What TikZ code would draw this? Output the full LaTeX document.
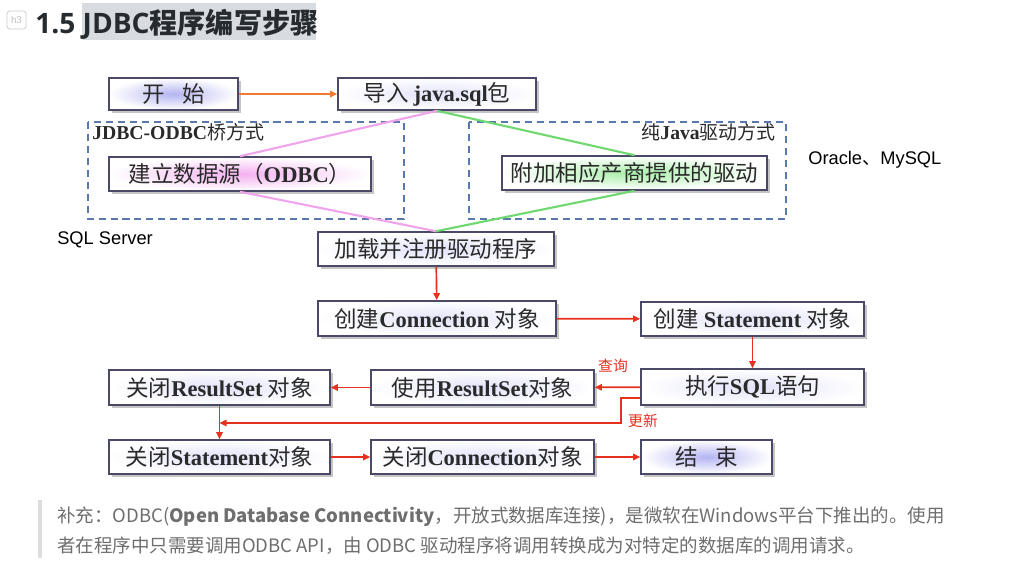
\documentclass[tikz,border=0pt]{standalone}
\usepackage{fontspec}
\setmainfont{Liberation Serif}
\newfontfamily\cjk{Noto Sans CJK SC}
\newfontfamily\titlefont{Open Sans}
\newfontfamily\labelfont{Liberation Sans}
\usetikzlibrary{arrows.meta, shadows}

\definecolor{boxline}{HTML}{4A4A68}
\definecolor{boxtext}{HTML}{2A2A2A}
\definecolor{glowblue}{HTML}{E2E2FA}
\definecolor{glowstrong}{HTML}{B4B4F2}
\definecolor{glowpink}{HTML}{F4B0F0}
\definecolor{glowgreen}{HTML}{A8EEA8}
\definecolor{dashblue}{HTML}{5878AE}
\definecolor{flowred}{HTML}{E8301E}
\definecolor{startorange}{HTML}{F07A30}
\definecolor{odbcpink}{HTML}{F0A4EC}
\definecolor{javagreen}{HTML}{70D870}
\definecolor{notegray}{HTML}{6E6E6E}
\definecolor{notebar}{HTML}{DDDDDD}
\definecolor{titlebg}{HTML}{D8DCE1}
\definecolor{titletext}{HTML}{262B30}

\newcommand{\en}[1]{{\rmfamily\bfseries #1}}

\begin{document}
\begin{tikzpicture}[x=0.025cm, y=-0.025cm,
    stepbox/.style={draw=boxline, line width=1.1pt, inner sep=0pt,
      minimum height=0.85cm, text=boxtext,
      font=\cjk\fontsize{16}{18}\selectfont,
      inner color=#1, outer color=white,
      drop shadow={shadow xshift=2pt, shadow yshift=-2pt, opacity=0.45}},
    stepbox/.default=glowblue,
    flow/.style={draw=flowred, line width=1.2pt, -{Triangle[length=5pt, width=4.5pt]}},
    frame/.style={draw=dashblue, line width=1.4pt, dash pattern=on 5pt off 3.5pt},
    branch/.style={line width=1.5pt},
    framelabel/.style={font=\cjk\fontsize{13.5}{15}\selectfont, text=boxtext, inner sep=0pt},
    side/.style={font=\labelfont\fontsize{13}{15}\selectfont, inner sep=0pt},
    tag/.style={font=\cjk\fontsize{10.5}{12}\selectfont, text=flowred, inner sep=0pt},
    notetext/.style={font=\cjk\fontsize{13.15}{16}\selectfont, text=notegray, inner sep=0pt, anchor=west}]

    \useasboundingbox (0,0) rectangle (1031,568);
    \fill[white] (0,0) rectangle (1031,568);

    % 标题
    \draw[gray!40, line width=0.6pt, rounded corners=2pt] (7,11) rectangle (26,29);
    \node[text=gray!50, font=\labelfont\fontsize{7}{8}\selectfont] (badge) at (16.5,20) {h3};
    \fill[titlebg] (82,3) rectangle (316,40);
    \node[anchor=west, inner sep=0pt, text=titletext] (title) at (35,24)
      {{\titlefont\bfseries\fontsize{20}{22}\selectfont 1.5 JDBC}{\cjk\bfseries\fontsize{20}{22}\selectfont 程序编写步骤}};

    % 两种驱动方式的虚线框
    \draw[frame] (88,122) rectangle (404,219);
    \draw[frame] (469,122) rectangle (786,219);
    \node[framelabel, anchor=west] (bridgelabel) at (92,132) {{\rmfamily\bfseries\fontsize{14}{15}\selectfont JDBC-ODBC}桥方式};
    \node[framelabel, anchor=east] (purelabel) at (776,132) {纯{\rmfamily\bfseries\fontsize{14}{15}\selectfont Java}驱动方式};

    % 步骤
    \node[stepbox=glowstrong, minimum width=3.225cm, minimum height=0.8cm] (start) at (173.5,94) {开\hspace{0.8em}始};
    \node[stepbox, minimum width=4.95cm, minimum height=0.8cm] (import) at (437,94) {导入 \en{java.sql}包};
    \node[stepbox=glowpink, minimum width=6.55cm] (odbc) at (240,174) {建立数据源（\en{ODBC}）};
    \node[stepbox=glowgreen, minimum width=6.625cm] (vendor) at (634.5,173) {附加相应产商提供的驱动};
    \node[stepbox, minimum width=5.9cm] (load) at (436,249) {加载并注册驱动程序};
    \node[stepbox, minimum width=5.95cm, minimum height=0.875cm] (conn) at (437,318.5) {创建\en{Connection} 对象};
    \node[stepbox, minimum width=5.575cm] (stmt) at (752.5,319) {创建 \en{Statement} 对象};
    \node[stepbox, minimum width=5.575cm, minimum height=0.9cm] (exec) at (752.5,387) {执行\en{SQL}语句};
    \node[stepbox, minimum width=5.575cm, minimum height=0.875cm] (use) at (482.5,387.5) {使用\en{ResultSet}对象};
    \node[stepbox, minimum width=5.525cm, minimum height=0.875cm] (closers) at (219.5,387.5) {关闭\en{ResultSet} 对象};
    \node[stepbox, minimum width=5.525cm] (closestmt) at (219.5,457) {关闭\en{Statement}对象};
    \node[stepbox, minimum width=5.575cm] (closeconn) at (482.5,457) {关闭\en{Connection}对象};
    \node[stepbox=glowstrong, minimum width=3.275cm] (finish) at (706.5,457) {结\hspace{0.8em}束};

    % 旁注
    \node[side, anchor=west] (vendors) at (808,160) {Oracle{\cjk 、}MySQL};
    \node[side, anchor=west] (sqlserver) at (57,240) {SQL Server};

    % 分支连线
    \draw[branch, odbcpink] (import.south) -- (odbc.north);
    \draw[branch, odbcpink] (odbc.south) -- (load.north);
    \draw[branch, javagreen] (import.south) -- (vendor.north);
    \draw[branch, javagreen] (vendor.south) -- (load.north);

    % 流程箭头
    \draw[line width=1.2pt, startorange, -{Triangle[length=5pt, width=4.5pt]}] (start) -- (import);
    \draw[flow] (load) -- (conn);
    \draw[flow] (conn) -- (stmt);
    \draw[flow] (stmt) -- (exec);
    \draw[flow] (exec) -- (use);
    \node[tag] (query) at (613,366) {查询};
    \draw[flow] (use) -- (closers);
    \draw[flow] (closers) -- (closestmt);
    \coordinate (updturn) at (621,423);
    \draw[flow] ([yshift=-0.27cm]exec.west) -| (updturn) -- (updturn -| closers.south);
    \node[tag] (update) at (643,421) {更新};
    \draw[flow] (closestmt) -- (closeconn);
    \draw[flow] (closeconn) -- (finish);

    % 补充说明
    \fill[notebar] (38,500) rectangle (42,558);
    \node[notetext] (note1) at (57,517) {补充：ODBC(\textbf{Open Database Connectivity}，开放式数据库连接)，是微软在Windows平台下推出的。使用};
    \node[notetext] (note2) at (57,546) {者在程序中只需要调用ODBC API，由 ODBC 驱动程序将调用转换成为对特定的数据库的调用请求。};
\end{tikzpicture}
\end{document}
